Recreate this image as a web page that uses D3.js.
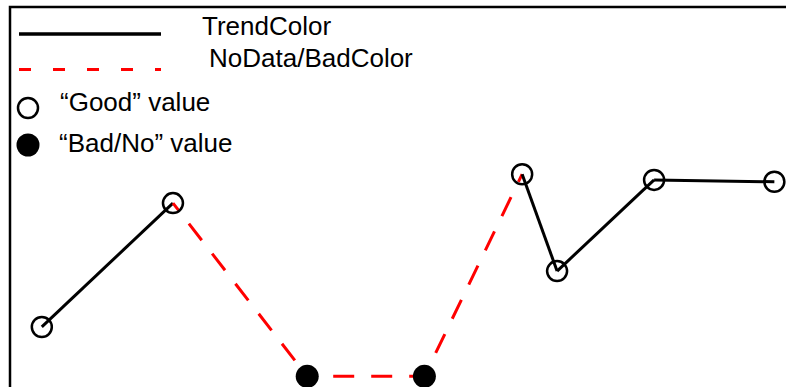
<!DOCTYPE html>
<html>
<head>
<meta charset="utf-8">
<script src="https://cdn.jsdelivr.net/npm/d3@7"></script>
<style>
  body { margin: 0; background: #fff; }
  text { font-family: "Liberation Sans", Arial, Helvetica, sans-serif; }
</style>
</head>
<body>
<div id="chart"></div>
<script>
// values (x and y in arbitrary chart units)
const xValues = [0.41, 2.10, 3.83, 5.34, 6.60, 7.05, 8.30, 9.85]
const yValues = [1.58, 4.84, 0.28, 0.28, 5.60, 3.05, 5.45, 5.40]
const goodFlags = [true, true, false, false, true, true, true, true]
const legendLabels = ["TrendColor", "NoData/BadColor", "\u201cGood\u201d value", "\u201cBad/No\u201d value"]

const trendColor = "#000000"
const badColor = "#ff0000"

let dimensions = { width: 786, height: 387 }

const svg = d3.select("#chart")
  .append("svg")
  .attr("width", dimensions.width)
  .attr("height", dimensions.height)

const xScale = d3.scaleLinear().domain([0, 10]).range([10, 786])
const yScale = d3.scaleLinear().domain([0, 10]).range([387, 7])

// frame: only top and left edges are visible
svg.append("path")
  .attr("d", `M${xScale(0)},${dimensions.height} V${yScale(10)} H${dimensions.width}`)
  .attr("fill", "none")
  .attr("stroke", "#000")
  .attr("stroke-width", 2.5)

const points = xValues.map((x, i) => ({ x: x, y: yValues[i], good: goodFlags[i] }))

const line = d3.line().x(d => xScale(d.x)).y(d => yScale(d.y))

// one segment between neighbours; red dashed if either end is bad
const segments = d3.pairs(points)
svg.selectAll(".seg").data(segments).enter()
  .append("path")
  .attr("class", "seg")
  .attr("d", d => line(d))
  .attr("fill", "none")
  .attr("stroke", d => (d[0].good && d[1].good) ? trendColor : badColor)
  .attr("stroke-width", 3)
  .attr("stroke-dasharray", d => (d[0].good && d[1].good) ? null : "21 17")
  .attr("stroke-dashoffset", 12)

svg.selectAll(".pt").data(points).enter()
  .append("circle")
  .attr("class", "pt")
  .attr("cx", d => xScale(d.x))
  .attr("cy", d => yScale(d.y))
  .attr("r", d => d.good ? 10 : 11.5)
  .attr("fill", d => d.good ? "none" : "#000")
  .attr("stroke", "#000")
  .attr("stroke-width", d => d.good ? 2.5 : 0)

// legend
const legend = svg.append("g")

legend.append("line")
  .attr("x1", 19).attr("x2", 161).attr("y1", 34).attr("y2", 34)
  .attr("stroke", trendColor).attr("stroke-width", 3.5)

legend.append("line")
  .attr("x1", 19).attr("x2", 161).attr("y1", 69.5).attr("y2", 69.5)
  .attr("stroke", badColor).attr("stroke-width", 3.2)
  .attr("stroke-dasharray", "12 22")

legend.append("circle")
  .attr("cx", 28).attr("cy", 108).attr("r", 10)
  .attr("fill", "none").attr("stroke", "#000").attr("stroke-width", 2.5)

legend.append("circle")
  .attr("cx", 28).attr("cy", 145).attr("r", 11.5)
  .attr("fill", "#000")

const labelPos = [[202, 35], [209, 67], [60, 111], [59, 152]]
legend.selectAll(".lbl").data(legendLabels).enter()
  .append("text")
  .attr("class", "lbl")
  .attr("x", (d, i) => labelPos[i][0])
  .attr("y", (d, i) => labelPos[i][1])
  .attr("font-size", 26)
  .attr("fill", "#000")
  .text(d => d)
</script>
</body>
</html>
